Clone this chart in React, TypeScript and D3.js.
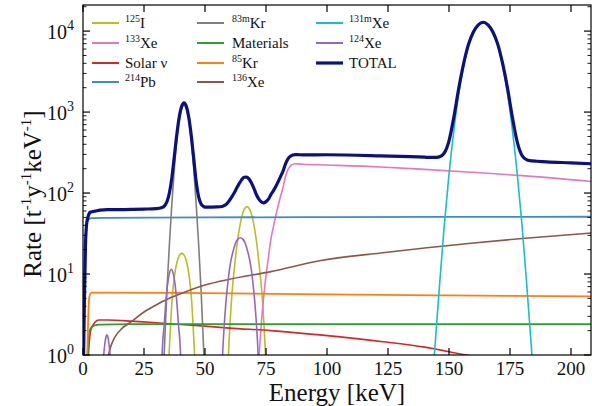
import React from 'react';
import * as d3 from 'd3';

type Pt = [number, number];

// Energy [keV] and rate [t^-1 y^-1 keV^-1] samples for each component
const iodine125: Pt[] = [
  [34.5, 0.35], [35.5, 1.4], [36.5, 4.8], [37.5, 9.5], [38.5, 14], [39.5, 17], [40.5, 18],
  [41.5, 17], [42.5, 14], [43.5, 9.5], [44.5, 4.8], [45.5, 1.4], [46.5, 0.35],
  [58.7, 0.3], [59.6, 1.0], [60.2, 2.3], [61.2, 6.5], [62.2, 13], [63.2, 24], [64.2, 38],
  [65.2, 53], [66.2, 64], [67.2, 68], [68.2, 64], [69.2, 53], [70.2, 38], [71.2, 24],
  [72.2, 13], [73.2, 6.5], [74.2, 2.3], [74.8, 1.0], [75.7, 0.3],
];

const xenon133: Pt[] = [
  [71.5, 0.4], [72.2, 1.0], [73, 2.3], [74, 5], [75, 9.5], [76, 16], [77, 27], [78, 38],
  [79, 52], [80, 70], [81, 92], [82, 118], [83, 160], [84, 195], [85, 215], [86, 226],
  [87, 230], [88, 229], [90, 227], [100, 222], [122, 210], [140, 196], [159, 181],
  [180, 164], [208.2, 139],
];

const solarNu: Pt[] = [
  [2, 0.8], [3, 1.9], [4, 2.3], [5, 2.55], [6.5, 2.7], [10, 2.7], [20, 2.62], [30, 2.5],
  [40, 2.38], [50, 2.27], [60, 2.15], [77, 2.0], [97, 1.77], [123, 1.46], [140, 1.25],
  [157, 1.0], [170, 0.85], [185, 0.7],
];

const lead214: Pt[] = [
  [0, 0.3], [0.5, 3], [1, 20], [1.5, 40], [2, 46], [2.5, 48], [3.5, 49], [10, 49.3],
  [50, 50], [100, 50.5], [150, 50.8], [208.2, 51],
];

const krypton83m: Pt[] = [
  [32.4, 0.25], [33.4, 1.26], [34.4, 6.2], [35.4, 23], [36.4, 72], [37.4, 195], [38.4, 432],
  [39.4, 767], [40.4, 1084], [41.4, 1215], [42.4, 1084], [43.4, 767], [44.4, 432],
  [45.4, 195], [46.4, 72], [47.4, 23], [48.4, 6.2], [49.4, 1.26], [50.4, 0.25],
];

const materials: Pt[] = [
  [1.5, 0.5], [2, 1.2], [2.5, 1.8], [3, 2.1], [4.5, 2.3], [7, 2.37], [20, 2.4], [208.2, 2.4],
];

const krypton85: Pt[] = [
  [1.5, 0.5], [2, 2], [2.3, 4], [2.7, 5.4], [3.3, 5.85], [5, 5.9], [50, 5.8], [100, 5.6],
  [150, 5.45], [208.2, 5.3],
];

const xenon136: Pt[] = [
  [9.5, 0.6], [10.5, 1.0], [11.5, 1.3], [13, 1.65], [16, 2.13], [20, 2.6], [25, 3.4],
  [30, 4.15], [34, 4.8], [40, 5.7], [50, 7.3], [60, 8.6], [77, 10.7], [97, 14.6],
  [122, 18.2], [140, 21], [159, 24], [180, 27.5], [208.2, 32],
];

const xenon131m: Pt[] = [
  [142, 0.12], [144, 1.0], [146, 6.5], [148, 38], [150, 170], [152, 600], [154, 1700],
  [156, 3700], [158, 6600], [160, 9500], [162, 11700], [164, 12600], [166, 11700],
  [168, 9500], [170, 6600], [172, 3700], [174, 1700], [176, 600], [178, 170], [180, 38],
  [182, 6.5], [184, 1.0], [186, 0.12],
];

const xenon124: Pt[] = [
  [8.0, 0.5], [8.5, 1.0], [9.0, 1.4], [9.5, 1.7], [9.8, 1.77], [10.1, 1.7], [10.6, 1.4],
  [11.1, 1.0], [11.6, 0.5],
  [31.7, 0.35], [32.4, 1.0], [32.7, 1.5], [33.2, 2.2], [33.7, 3.6], [34.2, 5.5], [35.2, 9.5],
  [36.2, 11.4], [37.2, 9.5], [38.2, 5.5], [38.7, 3.6], [39.2, 2.2], [39.7, 1.5], [40.0, 1.0],
  [40.7, 0.35],
  [56.5, 0.4], [57.2, 1.0], [57.5, 1.5], [58.5, 4.2], [59.5, 8.5], [60.5, 14], [61.5, 19],
  [62.5, 24], [63.5, 27], [64.5, 28], [65.5, 27], [66.5, 24], [67.5, 19], [68.5, 14],
  [69.5, 8.5], [70.5, 4.2], [71.5, 1.5], [71.8, 1.0], [72.5, 0.4],
];

const total: Pt[] = [
  [0, 0.3], [0.5, 3.5], [1, 22], [1.5, 42], [2, 50], [2.5, 55.5], [3, 58], [4, 59],
  [5, 59.8], [7, 61.5], [10, 62.5], [15, 62.5], [20, 62.8], [25, 63.4], [30, 64.2],
  [32.4, 66.3], [33.4, 69.5], [34.4, 78], [35.4, 100], [36.4, 153], [37.4, 279],
  [38.4, 516], [39.4, 852], [40.4, 1168], [41.4, 1298], [42.4, 1165], [43.4, 843],
  [44.4, 503], [45.4, 263], [46.4, 138], [47.4, 89.5], [48.4, 73], [49.4, 68.3],
  [50.5, 67], [55, 67.4], [57, 68.3], [58, 70.3], [59, 74.2], [60, 80.8], [61, 89.8],
  [62, 100.8], [63, 115.3], [64, 130.5], [65, 145.5], [66, 156.5], [67, 157.5],
  [68, 149.5], [69, 134.2], [70, 115.2], [71, 96.6], [72, 84.5], [73, 78], [74, 75.8],
  [75, 78.4], [76, 84], [77, 95.5], [78, 106.5], [79, 120.5], [80, 138.6], [81, 161],
  [82, 187], [83, 229], [84, 264], [85, 284], [86, 295], [87, 299], [88, 298], [90, 296],
  [100, 297], [122, 288], [140, 277], [142, 275], [144, 275], [146, 280], [148, 310],
  [150, 441], [152, 870], [154, 1969], [156, 3968], [158, 6867], [160, 9765],
  [162, 11964], [164, 12863], [166, 11961], [168, 9760], [170, 6859], [172, 3957],
  [174, 1956], [176, 854], [178, 423], [180, 289], [182, 256], [184, 249], [186, 247],
  [190, 243], [200, 236], [208.2, 230],
];

const xTickValues = [0, 25, 50, 75, 100, 125, 150, 175, 200];
const yDecadeExponents = [0, 1, 2, 3, 4];

type Entry = { sup: string; name: string; color: string; data: Pt[]; width: number };

// plotting (and legend) order, legend filled column by column
const entries: Entry[] = [
  { sup: '125', name: 'I', color: '#bcbd22', data: iodine125, width: 1.6 },
  { sup: '133', name: 'Xe', color: '#e377c2', data: xenon133, width: 1.6 },
  { sup: '', name: 'Solar ν', color: '#d62728', data: solarNu, width: 1.6 },
  { sup: '214', name: 'Pb', color: '#3d8cc4', data: lead214, width: 1.8 },
  { sup: '83m', name: 'Kr', color: '#7f7f7f', data: krypton83m, width: 1.6 },
  { sup: '', name: 'Materials', color: '#2ca02c', data: materials, width: 1.8 },
  { sup: '85', name: 'Kr', color: '#ff7f0e', data: krypton85, width: 1.8 },
  { sup: '136', name: 'Xe', color: '#8c564b', data: xenon136, width: 1.6 },
  { sup: '131m', name: 'Xe', color: '#17becf', data: xenon131m, width: 1.6 },
  { sup: '124', name: 'Xe', color: '#9467bd', data: xenon124, width: 1.6 },
  { sup: '', name: 'TOTAL', color: '#0b1280', data: total, width: 3.2 },
];

const W = 592;
const H = 406;
const left = 83;
const right = 591;
const top = 5;
const bottom = 355;
const FONT = '"Liberation Serif", "Times New Roman", serif';

export default function App() {
  const x = d3.scaleLinear().domain([0, 208.2]).range([left, right]);
  const y = d3.scaleLog().domain([1, 2.1e4]).range([bottom, top]);
  const line = d3
    .line<Pt>()
    .x((d) => x(d[0]))
    .y((d) => y(Math.max(d[1], 0.01)))
    .curve(d3.curveMonotoneX);

  const minorTicks: number[] = [];
  yDecadeExponents.forEach((e) => {
    for (let k = 2; k <= 9; k++) {
      const v = k * Math.pow(10, e);
      if (v < 2.1e4) minorTicks.push(v);
    }
  });

  const legendCols = [
    { lx: 92, tx: 125 },
    { lx: 197, tx: 232 },
    { lx: 316, tx: 349 },
  ];
  const legendRows = [23, 43, 63, 82];

  return (
    <svg
      width={W}
      height={H}
      viewBox={`0 0 ${W} ${H}`}
      style={{ position: 'fixed', left: 0, top: 0, background: '#fff' }}
      fontFamily={FONT}
    >
      <rect width={W} height={H} fill="#fff" />
      <defs>
        <clipPath id="plot-area">
          <rect x={left} y={top} width={right - left} height={bottom - top} />
        </clipPath>
      </defs>

      <g clipPath="url(#plot-area)">
        {entries.map((s, i) => (
          <path
            key={i}
            d={line(s.data) || ''}
            fill="none"
            stroke={s.color}
            strokeWidth={s.width}
            strokeLinejoin="round"
          />
        ))}
      </g>

      {/* frame */}
      <rect x={left} y={top} width={right - left} height={bottom - top} fill="none" stroke="#000" strokeWidth={1.2} />

      {/* x ticks, bottom and top, pointing inward */}
      {xTickValues.map((t) => (
        <g key={`xt${t}`}>
          <line x1={x(t)} x2={x(t)} y1={bottom} y2={bottom - 7} stroke="#000" strokeWidth={1.2} />
          <line x1={x(t)} x2={x(t)} y1={top} y2={top + 7} stroke="#000" strokeWidth={1.2} />
          <text x={x(t)} y={375} textAnchor="middle" fontSize={19} fill="#111">
            {t}
          </text>
        </g>
      ))}

      {/* y ticks, left and right */}
      {yDecadeExponents.map((e) => {
        const yy = y(Math.pow(10, e));
        return (
          <g key={`yt${e}`}>
            <line x1={left} x2={left + 7} y1={yy} y2={yy} stroke="#000" strokeWidth={1.2} />
            <line x1={right} x2={right - 7} y1={yy} y2={yy} stroke="#000" strokeWidth={1.2} />
            <text x={74} y={yy + 8} textAnchor="end" fontSize={20} fill="#111">
              10
              <tspan fontSize={14} dy={-9}>
                {e}
              </tspan>
            </text>
          </g>
        );
      })}
      {minorTicks.map((v) => (
        <g key={`ym${v}`}>
          <line x1={left} x2={left + 3.5} y1={y(v)} y2={y(v)} stroke="#000" strokeWidth={0.9} />
          <line x1={right} x2={right - 3.5} y1={y(v)} y2={y(v)} stroke="#000" strokeWidth={0.9} />
        </g>
      ))}

      {/* axis titles */}
      <text x={(left + right) / 2} y={401} textAnchor="middle" fontSize={25} fill="#111">
        Energy [keV]
      </text>
      <text
        transform={`translate(41, 194) rotate(-90)`}
        textAnchor="middle"
        fontSize={25}
        fill="#111"
      >
        Rate [t<tspan fontSize={15} dy={-10}>-1</tspan>
        <tspan dy={10}>y</tspan>
        <tspan fontSize={15} dy={-10}>-1</tspan>
        <tspan dy={10}>keV</tspan>
        <tspan fontSize={15} dy={-10}>-1</tspan>
        <tspan dy={10}>]</tspan>
      </text>

      {/* legend */}
      {entries.map((s, i) => {
        const col = legendCols[Math.floor(i / 4)];
        const ry = legendRows[i % 4];
        return (
          <g key={`lg${i}`}>
            <line
              x1={col.lx}
              x2={col.lx + 27}
              y1={ry}
              y2={ry}
              stroke={s.color}
              strokeWidth={s.name === 'TOTAL' ? 3.2 : 2}
            />
            <text x={col.tx} y={ry + 5} fontSize={15} fill="#111">
              {s.sup ? (
                <>
                  <tspan fontSize={10} dy={-6}>
                    {s.sup}
                  </tspan>
                  <tspan dy={6}>{s.name}</tspan>
                </>
              ) : (
                s.name
              )}
            </text>
          </g>
        );
      })}
    </svg>
  );
}
